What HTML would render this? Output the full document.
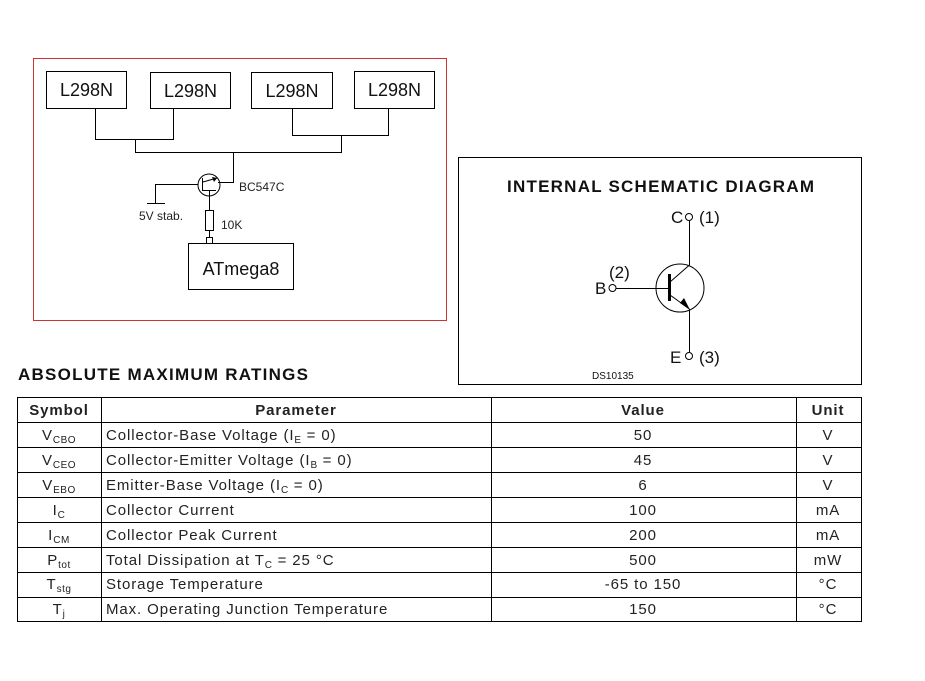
<!DOCTYPE html>
<html><head><meta charset="utf-8"><style>
html,body{margin:0;padding:0;background:#fff;}
svg{display:block;font-family:"Liberation Sans",Arial,sans-serif;}
.t{font-size:15px;fill:#222;letter-spacing:0.9px;}
.s{font-size:10px;letter-spacing:0.5px;}
</style></head><body>
<svg width="925" height="681" viewBox="0 0 925 681" xmlns="http://www.w3.org/2000/svg">
<rect x="0" y="0" width="925" height="681" fill="#fff"/>
<rect x="33.5" y="58.5" width="413" height="262" fill="none" stroke="#c33" stroke-width="1"/>
<g fill="none" stroke="#000" stroke-width="1">
<rect x="46.5" y="71.5" width="80" height="37"/>
<rect x="150.5" y="72.5" width="80" height="36"/>
<rect x="251.5" y="72.5" width="81" height="36"/>
<rect x="354.5" y="71.5" width="80" height="37"/>
<polyline points="95.5,108 95.5,139.5 173.5,139.5 173.5,108"/>
<polyline points="292.5,108 292.5,135.5 388.5,135.5 388.5,108"/>
<polyline points="135.5,139.5 135.5,152.5 341.5,152.5 341.5,135.5"/>
<polyline points="233.5,152.5 233.5,182.5 218,182.5"/>
<circle cx="209" cy="185" r="11"/>
<polyline points="198,184.5 155.5,184.5 155.5,203.5"/>
<line x1="147" y1="203.5" x2="165" y2="203.5"/>
<line x1="202.5" y1="178" x2="202.5" y2="191"/>
<line x1="202" y1="190.5" x2="216" y2="190.5"/>
<line x1="203" y1="182" x2="217" y2="178"/>
<line x1="209.5" y1="191" x2="209.5" y2="210"/>
<rect x="205.5" y="210.5" width="8" height="20"/>
<line x1="209.5" y1="230" x2="209.5" y2="237"/>
<rect x="206.5" y="237.5" width="6" height="6"/>
<rect x="188.5" y="243.5" width="105" height="46"/>
</g>
<polygon points="217,178 212,177 214,182" fill="#000"/>
<g font-size="18" fill="#111">
<text x="86.5" y="96" text-anchor="middle">L298N</text>
<text x="190.5" y="97" text-anchor="middle">L298N</text>
<text x="292" y="97" text-anchor="middle">L298N</text>
<text x="394.5" y="96" text-anchor="middle">L298N</text>
<text x="241" y="275" text-anchor="middle">ATmega8</text>
</g>
<g font-size="12" fill="#222">
<text x="239" y="191">BC547C</text>
<text x="139" y="220">5V stab.</text>
<text x="221" y="229">10K</text>
</g>
<rect x="458.5" y="157.5" width="403" height="227" fill="none" stroke="#000"/>
<text x="507" y="192" font-size="17" font-weight="bold" fill="#111" textLength="307">INTERNAL SCHEMATIC DIAGRAM</text>
<g fill="none" stroke="#000" stroke-width="1">
<circle cx="680" cy="288" r="24"/>
<circle cx="689" cy="217" r="3.5"/>
<circle cx="612.5" cy="288" r="3.5"/>
<circle cx="689" cy="356" r="3.5"/>
<line x1="689.5" y1="221" x2="689.5" y2="265"/>
<line x1="616" y1="288.5" x2="669" y2="288.5"/>
<line x1="670" y1="282" x2="689.5" y2="265"/>
<line x1="670" y1="295" x2="689.5" y2="309"/>
<line x1="689.5" y1="309" x2="689.5" y2="352"/>
</g>
<rect x="668" y="274" width="3" height="27" fill="#000"/>
<polygon points="690,310 680,303 684,298" fill="#000"/>
<g font-size="17" fill="#111">
<text x="671" y="223">C</text>
<text x="699" y="223">(1)</text>
<text x="609" y="278">(2)</text>
<text x="595" y="294">B</text>
<text x="670" y="363">E</text>
<text x="699" y="363">(3)</text>
</g>
<text x="592" y="379" font-size="10" fill="#111">DS10135</text>
<text x="18" y="380" font-size="17" font-weight="bold" fill="#111" textLength="290">ABSOLUTE MAXIMUM RATINGS</text>
<g stroke="#000" stroke-width="1" fill="none">
<rect x="17.5" y="397.5" width="844" height="224"/>
<line x1="101.5" y1="397" x2="101.5" y2="622"/>
<line x1="491.5" y1="397" x2="491.5" y2="622"/>
<line x1="796.5" y1="397" x2="796.5" y2="622"/>
<line x1="17" y1="422.5" x2="862" y2="422.5"/>
<line x1="17" y1="447.5" x2="862" y2="447.5"/>
<line x1="17" y1="472.5" x2="862" y2="472.5"/>
<line x1="17" y1="497.5" x2="862" y2="497.5"/>
<line x1="17" y1="522.5" x2="862" y2="522.5"/>
<line x1="17" y1="547.5" x2="862" y2="547.5"/>
<line x1="17" y1="572.5" x2="862" y2="572.5"/>
<line x1="17" y1="597.5" x2="862" y2="597.5"/>
</g>
<g class="t">
<text x="59" y="415" text-anchor="middle" font-weight="bold">Symbol</text>
<text x="296" y="415" text-anchor="middle" font-weight="bold">Parameter</text>
<text x="643" y="415" text-anchor="middle" font-weight="bold">Value</text>
<text x="828" y="415" text-anchor="middle" font-weight="bold">Unit</text>

<text x="59" y="440" text-anchor="middle">V<tspan class="s" dy="3">CBO</tspan></text>
<text x="59" y="465" text-anchor="middle">V<tspan class="s" dy="3">CEO</tspan></text>
<text x="59" y="490" text-anchor="middle">V<tspan class="s" dy="3">EBO</tspan></text>
<text x="59" y="515" text-anchor="middle">I<tspan class="s" dy="3">C</tspan></text>
<text x="59" y="540" text-anchor="middle">I<tspan class="s" dy="3">CM</tspan></text>
<text x="59" y="565" text-anchor="middle">P<tspan class="s" dy="3">tot</tspan></text>
<text x="59" y="589" text-anchor="middle">T<tspan class="s" dy="3">stg</tspan></text>
<text x="59" y="614" text-anchor="middle">T<tspan class="s" dy="3">j</tspan></text>

<text x="106" y="440">Collector-Base Voltage (I<tspan class="s" dy="3">E</tspan><tspan dy="-3"> = 0)</tspan></text>
<text x="106" y="465">Collector-Emitter Voltage (I<tspan class="s" dy="3">B</tspan><tspan dy="-3"> = 0)</tspan></text>
<text x="106" y="490">Emitter-Base Voltage (I<tspan class="s" dy="3">C</tspan><tspan dy="-3"> = 0)</tspan></text>
<text x="106" y="515">Collector Current</text>
<text x="106" y="540">Collector Peak Current</text>
<text x="106" y="565">Total Dissipation at T<tspan class="s" dy="3">C</tspan><tspan dy="-3"> = 25 °C</tspan></text>
<text x="106" y="589">Storage Temperature</text>
<text x="106" y="614">Max. Operating Junction Temperature</text>

<text x="643" y="440" text-anchor="middle">50</text>
<text x="643" y="465" text-anchor="middle">45</text>
<text x="643" y="490" text-anchor="middle">6</text>
<text x="643" y="515" text-anchor="middle">100</text>
<text x="643" y="540" text-anchor="middle">200</text>
<text x="643" y="565" text-anchor="middle">500</text>
<text x="643" y="589" text-anchor="middle">-65 to 150</text>
<text x="643" y="614" text-anchor="middle">150</text>

<text x="828" y="440" text-anchor="middle">V</text>
<text x="828" y="465" text-anchor="middle">V</text>
<text x="828" y="490" text-anchor="middle">V</text>
<text x="828" y="515" text-anchor="middle">mA</text>
<text x="828" y="540" text-anchor="middle">mA</text>
<text x="828" y="565" text-anchor="middle">mW</text>
<text x="828" y="589" text-anchor="middle">°C</text>
<text x="828" y="614" text-anchor="middle">°C</text>
</g>
</svg>
</body></html>
